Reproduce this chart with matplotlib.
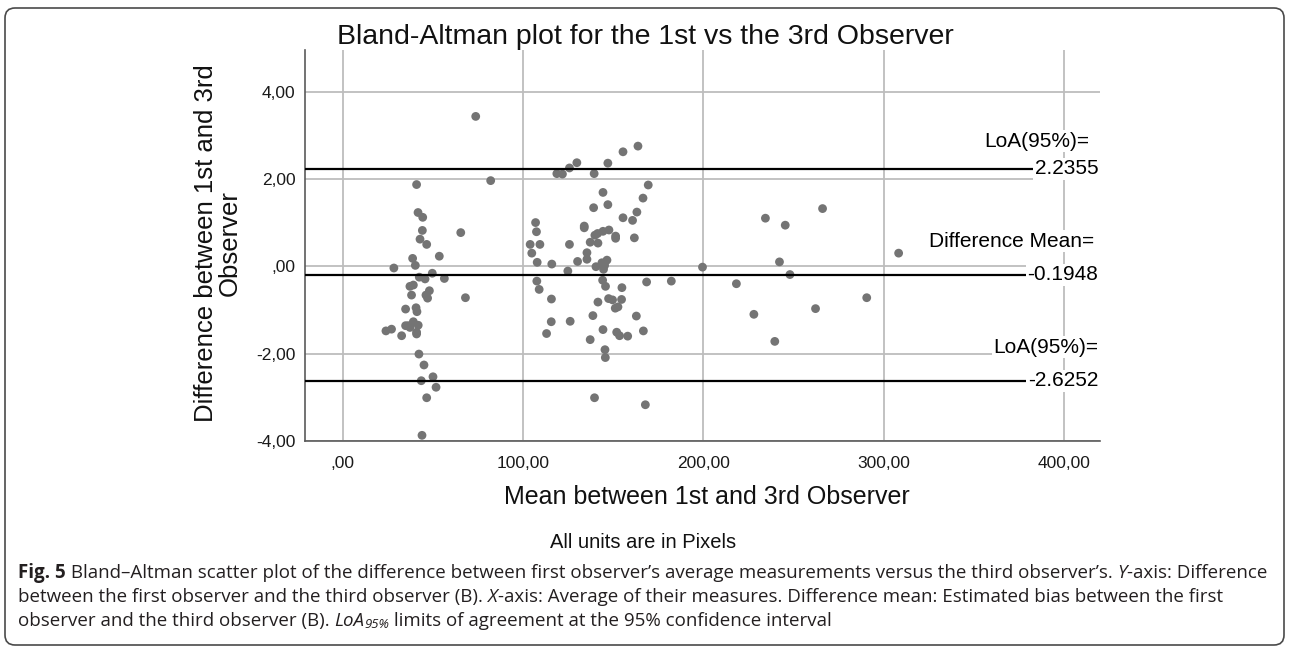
import numpy as np
import matplotlib
matplotlib.use("Agg")
import matplotlib.pyplot as plt
from matplotlib.patches import FancyBboxPatch
from matplotlib.transforms import IdentityTransform

# mean of the two observers (x) and their difference (y)
mean_vals = [73.7, 82.0, 40.9, 41.7, 44.3, 44.1, 42.8, 46.5, 65.4, 53.5, 38.7, 28.3,
             40.2, 49.6, 42.4, 45.6, 56.3, 37.2, 39.1, 48.0, 46.1, 47.0, 38.1, 68.0,
             34.8, 40.6, 41.1, 36.3, 39.1, 41.8, 37.2, 40.9, 34.8, 23.9, 27.0, 32.6,
             40.9, 42.2, 45.0, 43.5, 50.0, 51.7, 46.5, 43.9,
             163.7, 155.4, 147.0, 129.8, 125.7, 118.7, 121.8, 139.4, 169.4, 144.3,
             166.5, 139.1, 147.0, 163.1, 155.4, 160.7, 106.9, 107.4, 133.9, 133.9,
             103.9, 109.3, 125.7, 139.8, 141.3, 144.3, 147.6, 151.3, 151.3, 161.7,
             137.2, 141.5, 104.8, 135.4, 135.4, 130.2, 107.8, 115.9, 124.8, 140.4,
             143.7, 146.5, 144.6, 145.2, 107.6, 108.9, 144.1, 145.7, 154.8, 168.5,
             182.2, 115.7, 141.5, 147.4, 149.6, 154.6, 151.1, 152.6, 138.7, 162.8,
             115.6, 126.1, 113.0, 144.3, 151.9, 153.5, 158.0, 166.7, 137.2, 145.4,
             145.6, 139.6, 167.8,
             199.5, 234.4, 245.4, 266.1, 242.2, 248.0, 218.3, 308.3, 290.6, 228.0,
             262.2, 239.6]
diff_vals = [3.43, 1.96, 1.87, 1.23, 1.12, 0.82, 0.62, 0.50, 0.77, 0.23, 0.18, -0.04,
             0.02, -0.16, -0.25, -0.29, -0.28, -0.46, -0.43, -0.56, -0.66, -0.73, -0.66, -0.72,
             -0.98, -0.95, -1.04, -1.36, -1.27, -1.35, -1.40, -1.51, -1.36, -1.48, -1.44, -1.59,
             -1.55, -2.01, -2.26, -2.62, -2.53, -2.77, -3.01, -3.87,
             2.75, 2.62, 2.36, 2.37, 2.25, 2.12, 2.11, 2.12, 1.86, 1.69,
             1.56, 1.34, 1.41, 1.24, 1.11, 1.05, 1.00, 0.79, 0.92, 0.88,
             0.50, 0.50, 0.50, 0.71, 0.75, 0.80, 0.83, 0.69, 0.64, 0.65,
             0.55, 0.53, 0.30, 0.31, 0.16, 0.11, 0.09, 0.05, -0.11, -0.01,
             0.08, 0.14, -0.07, 0.02, -0.34, -0.53, -0.32, -0.46, -0.49, -0.36,
             -0.34, -0.75, -0.82, -0.74, -0.77, -0.76, -0.96, -0.93, -1.13, -1.14,
             -1.27, -1.26, -1.54, -1.45, -1.51, -1.59, -1.60, -1.48, -1.68, -1.91,
             -2.09, -3.01, -3.17,
             -0.02, 1.10, 0.94, 1.32, 0.10, -0.19, -0.40, 0.30, -0.72, -1.10,
             -0.97, -1.72]

upper_loa = 2.2355
diff_mean = -0.1948
lower_loa = -2.6252

x_ticks = [0, 100, 200, 300, 400]
x_ticklabels = [",00", "100,00", "200,00", "300,00", "400,00"]
y_ticks = [-4, -2, 0, 2, 4]
y_ticklabels = ["-4,00", "-2,00", ",00", "2,00", "4,00"]

W, H = 1290, 647
fig = plt.figure(figsize=(W / 100, H / 100), dpi=100)
plt.rcParams['font.family'] = ['Liberation Sans', 'DejaVu Sans']

ax = fig.add_axes([305 / W, 1 - 441 / H, (1100 - 305) / W, (441 - 50) / H])
ax.set_xlim(-21, 420)
ax.set_ylim(-4, 4.95)

ax.grid(True, color='#bdbdbd', linewidth=1.3)
ax.set_axisbelow(True)
for s in ['top', 'right']:
    ax.spines[s].set_visible(False)
for s in ['left', 'bottom']:
    ax.spines[s].set_color('#5a5a5a')
    ax.spines[s].set_linewidth(1.2)

ax.set_xticks(x_ticks)
ax.set_xticklabels(x_ticklabels)
ax.set_yticks(y_ticks)
ax.set_yticklabels(y_ticklabels)
ax.tick_params(axis='both', length=0, labelsize=12.5, colors='#1a1a1a')
ax.tick_params(axis='x', pad=11)
ax.tick_params(axis='y', pad=7)

ax.scatter(mean_vals, diff_vals, s=40, color='#747474', edgecolors='none', zorder=3)

for val in [upper_loa, diff_mean, lower_loa]:
    ax.axhline(val, color='black', linewidth=1.6, zorder=4)

box = dict(facecolor='white', edgecolor='none', pad=1.0)
lab_x = 419
fs_lab = 15
ax.text(lab_x - 5, upper_loa + 0.63, "LoA(95%)=", ha='right', va='center', fontsize=fs_lab, bbox=box, zorder=5)
ax.text(lab_x, upper_loa, "2.2355", ha='right', va='center', fontsize=fs_lab, bbox=box, zorder=5)
ax.text(lab_x - 2, diff_mean + 0.77, "Difference Mean=", ha='right', va='center', fontsize=fs_lab, bbox=box, zorder=5)
ax.text(lab_x, diff_mean, "-0.1948", ha='right', va='center', fontsize=fs_lab, bbox=box, zorder=5)
ax.text(lab_x, lower_loa + 0.77, "LoA(95%)=", ha='right', va='center', fontsize=fs_lab, bbox=box, zorder=5)
ax.text(lab_x, lower_loa, "-2.6252", ha='right', va='center', fontsize=fs_lab, bbox=box, zorder=5)

fig.text(0.5, 1 - 37 / H, "Bland-Altman plot for the 1st vs the 3rd Observer",
         ha='center', va='center', fontsize=20.5, color='#111111')
fig.text(707 / W, 1 - 497 / H, "Mean between 1st and 3rd Observer",
         ha='center', va='center', fontsize=18, color='#111111')
fig.text(218 / W, 1 - 243 / H, "Difference between 1st and 3rd\nObserver",
         ha='center', va='center', rotation=90, fontsize=18.5, color='#111111',
         multialignment='center', linespacing=1.0)
fig.text(643 / W, 1 - 543 / H, "All units are in Pixels",
         ha='center', va='center', fontsize=14.5, color='#111111')

# caption, drawn piece by piece so bold / italic parts can be mixed
cap_font = ['Open Sans', 'Liberation Sans', 'DejaVu Sans']
cap_lines = [
    [("Fig. 5", 'bold', 'normal'),
     (" Bland\u2013Altman scatter plot of the difference between first observer\u2019s average measurements versus the third observer\u2019s. ", 'normal', 'normal'),
     ("Y", 'normal', 'italic'),
     ("-axis: Difference", 'normal', 'normal')],
    [("between the first observer and the third observer (B). ", 'normal', 'normal'),
     ("X", 'normal', 'italic'),
     ("-axis: Average of their measures. Difference mean: Estimated bias between the first", 'normal', 'normal')],
    [("observer and the third observer (B). ", 'normal', 'normal'),
     ("LoA", 'normal', 'italic'),
     ("95%", 'sub', 'italic'),
     (" limits of agreement at the 95% confidence interval", 'normal', 'normal')],
]
renderer = fig.canvas.get_renderer()


def draw_line(pieces, ly, size, x0=18):
    x = x0
    made = []
    for txt, weight, style in pieces:
        fs = size
        y = ly
        if weight == 'sub':
            fs = size * 0.7
            y = ly + 4
            weight = 'normal'
        t = fig.text(x / W, 1 - y / H, txt, ha='left', va='center', fontsize=fs,
                     fontweight=weight, fontstyle=style, family=cap_font, color='#231f20')
        x += t.get_window_extent(renderer).width
        made.append(t)
    return x - x0, made


# fit the first caption line to the width it has in the picture
base = 12.0
w1, tmp = draw_line(cap_lines[0], 573, base)
for t in tmp:
    t.remove()
cap_size = base * (1262 - 18) / w1

for pieces, ly in zip(cap_lines, [573, 597, 621]):
    draw_line(pieces, ly, cap_size)

frame = FancyBboxPatch((5, 2), W - 11, H - 10, boxstyle="round,pad=0,rounding_size=10",
                       transform=IdentityTransform(), facecolor='none',
                       edgecolor='#4a4a4a', linewidth=1.2)
fig.add_artist(frame)

fig.savefig("out.png", dpi=100)
